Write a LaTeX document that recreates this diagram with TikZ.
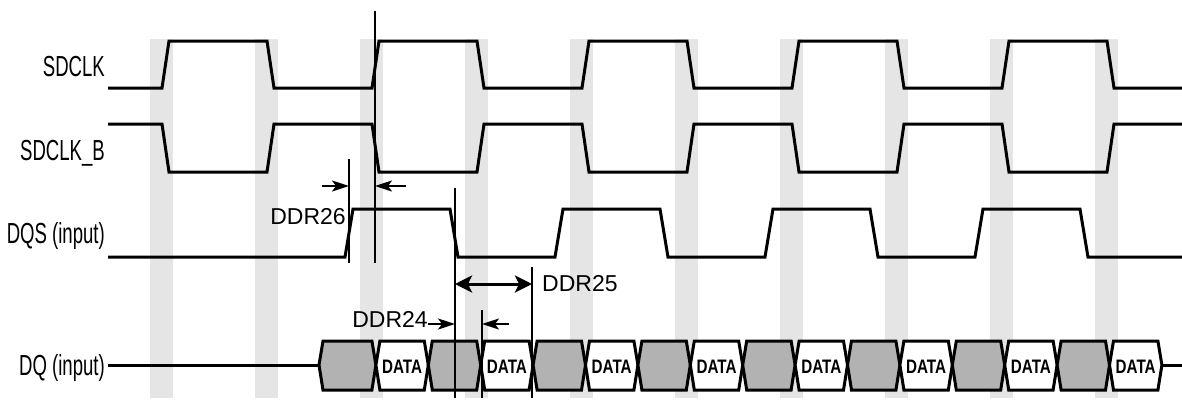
\documentclass[tikz,border=0pt]{standalone}
\usepackage{fontspec}
\setmainfont{Liberation Sans}
\newfontfamily\narrowfont[FakeStretch=0.64]{Liberation Sans}
\newfontfamily\datafont[FakeStretch=0.78]{Liberation Sans}
\usepackage{tikz}
\usetikzlibrary{arrows.meta}
\definecolor{bandgray}{gray}{0.9}
\definecolor{cellgray}{gray}{0.7}

\tikzset{
	band/.style={fill=bandgray, draw=none},
	sig/.style={line width=3pt, line join=miter},
	cell/.style={line width=3pt, line join=miter},
	guide/.style={line width=1.2pt},
	dim/.style={line width=2pt, -{Stealth[length=17pt, width=11pt, inset=4pt]}},
	bigdim/.style={line width=3pt, {Stealth[length=17pt, width=17pt, inset=4pt]}-{Stealth[length=17pt, width=17pt, inset=4pt]}},
	signame/.style={font=\narrowfont\fontsize{29}{30}\selectfont, anchor=base east, inner sep=0pt},
	ddrlabel/.style={font=\fontsize{23}{24}\selectfont, inner sep=0pt},
	datalabel/.style={font=\datafont\bfseries\fontsize{19.5}{20}\selectfont, anchor=base, inner sep=0pt}
}

\begin{document}
\begin{tikzpicture}[x=1pt, y=-1pt]
		\useasboundingbox (0,0) rectangle (1182,402);

		\foreach \k in {0,...,9}
			\fill[band] ({150+105*\k},39) rectangle ++(23,359);

		\node[signame] (sdclk) at (105,76) {SDCLK};
		\node[signame] (sdclkb) at (105,160) {SDCLK\_B};
		\node[signame] (dqs) at (105,243) {DQS (input)};
		\node[signame] (dq) at (105,375) {DQ (input)};

		\draw[sig] (108,88) \foreach \k in {0,2,...,8} { -- ({162+105*\k},88) -- ({169+105*\k},41) -- ({267+105*\k},41) -- ({274+105*\k},88) } -- (1182,88);
		\draw[sig] (108,124) \foreach \k in {0,2,...,8} { -- ({162+105*\k},124) -- ({169+105*\k},172) -- ({267+105*\k},172) -- ({274+105*\k},124) } -- (1182,124);
		\draw[sig] (108,257) \foreach \j in {0,...,3} { -- ({345+210*\j},257) -- ({353+210*\j},209) -- ({450+210*\j},209) -- ({458+210*\j},257) } -- (1182,257);

		\coordinate (dqin) at (108,365);
		\coordinate (dqfirst) at (319,365);
		\coordinate (dqlast) at (1162,365);
		\coordinate (dqout) at (1182,365);
		\draw[sig] (dqin) -- (dqfirst);
		\draw[sig] (dqlast) -- (dqout);

		\foreach \k in {0,...,15} {
			\pgfmathsetmacro{\xa}{ifthenelse(\k==0,319,323.5+52.4*\k)}
			\pgfmathsetmacro{\xb}{323.5+52.4*(\k+1)}
			\pgfmathtruncatemacro{\odd}{mod(\k,2)}
			\ifnum\odd=0 \def\cellfill{cellgray}\else \def\cellfill{white}\fi
			\draw[cell, fill=\cellfill] (\xa,365) -- ({\xa+4},341) -- ({\xb-4},341) -- (\xb,365) -- ({\xb-4},390) -- ({\xa+4},390) -- cycle;
		}
		\foreach \j in {1,...,8}
			\node[datalabel] (data\j) at ({349.7+104.8*(\j-1)+52.4},373) {DATA};

		\coordinate (g26top) at (349,159);
		\coordinate (g26bot) at (349,263);
		\coordinate (gclktop) at (375,11);
		\coordinate (gclkbot) at (375,263);
		\coordinate (gdqstop) at (455,188);
		\coordinate (gdqsbot) at (455,398);
		\coordinate (g24top) at (482,310);
		\coordinate (g24bot) at (482,398);
		\coordinate (g25top) at (532,267);
		\coordinate (g25bot) at (532,398);
		\draw[guide] (g26top) -- (g26bot);
		\draw[guide] (gclktop) -- (gclkbot);
		\draw[guide] (gdqstop) -- (gdqsbot);
		\draw[guide] (g24top) -- (g24bot);
		\draw[guide] (g25top) -- (g25bot);

		\coordinate (a26l) at (322,186);
		\coordinate (a26r) at (406,186);
		\draw[dim] (a26l) -- (g26top |- a26l);
		\draw[dim] (a26r) -- (gclktop |- a26r);

		\coordinate (a25) at (0,284);
		\draw[bigdim] (gdqstop |- a25) -- (g25top |- a25);

		\coordinate (a24l) at (428,324);
		\coordinate (a24r) at (509,324);
		\draw[dim] (a24l) -- (gdqstop |- a24l);
		\draw[dim] (a24r) -- (g24top |- a24r);

		\node[ddrlabel, anchor=base east] (ddr26) at (346,224) {DDR26};
		\node[ddrlabel, anchor=base west] (ddr25) at (542,291) {DDR25};
		\node[ddrlabel, anchor=base east] (ddr24) at (428,327) {DDR24};
	\end{tikzpicture}
\end{document}
